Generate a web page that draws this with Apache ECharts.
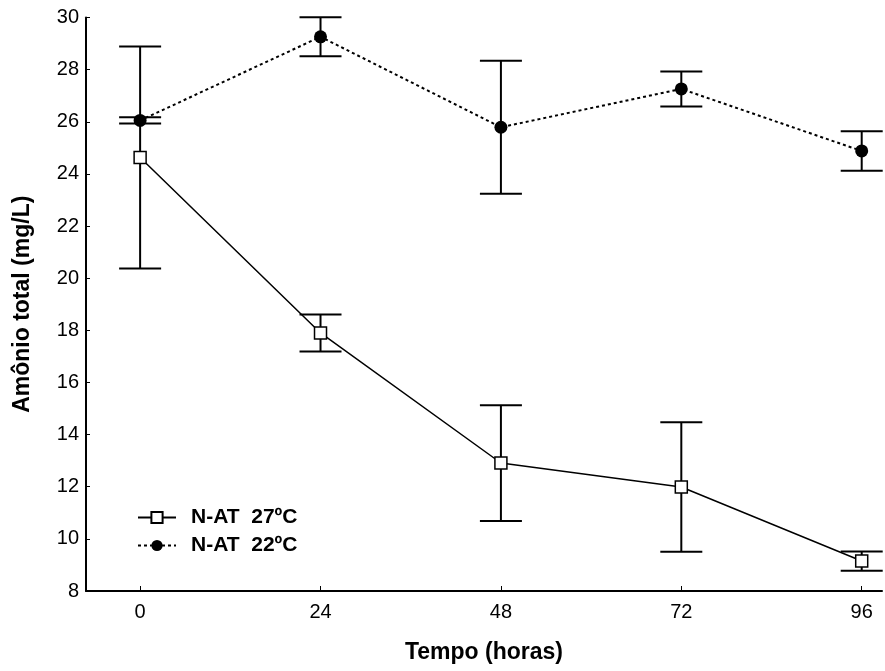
<!DOCTYPE html>
<html>
<head>
<meta charset="utf-8">
<script src="https://cdn.jsdelivr.net/npm/echarts@6/dist/echarts.min.js"></script>
<style>
  html, body { margin: 0; padding: 0; background: #fff; }
  #chart { width: 885px; height: 671px; }
</style>
</head>
<body>
<div id="chart"></div>
<script>
// tempo (horas)
var hours = [0, 24, 48, 72, 96];
// N-AT 27ºC
var at27 = [24.63, 17.90, 12.91, 11.99, 9.15];
var err27 = [4.26, 0.71, 2.22, 2.48, 0.37];
// N-AT 22ºC
var at22 = [26.05, 29.26, 25.79, 27.26, 24.88];
var err22 = [0.12, 0.75, 2.55, 0.67, 0.76];

var font = 'Liberation Sans, Arial, Helvetica, sans-serif';

function pairs(xs, ys) {
  return xs.map(function (x, i) { return [x, ys[i]]; });
}
function errData(xs, ys, es) {
  return xs.map(function (x, i) { return [x, ys[i] - es[i], ys[i] + es[i]]; });
}

// desenha barra de erro com "chapéu"
function renderErr(params, api) {
  var x = api.value(0);
  var lo = api.coord([x, api.value(1)]);
  var hi = api.coord([x, api.value(2)]);
  var half = 21;
  var style = { stroke: '#000', lineWidth: 2 };
  return {
    type: 'group',
    children: [
      { type: 'line', shape: { x1: lo[0], y1: lo[1], x2: hi[0], y2: hi[1] }, style: style },
      { type: 'line', shape: { x1: lo[0] - half, y1: lo[1], x2: lo[0] + half, y2: lo[1] }, style: style },
      { type: 'line', shape: { x1: hi[0] - half, y1: hi[1], x2: hi[0] + half, y2: hi[1] }, style: style }
    ]
  };
}

var chart = echarts.init(document.getElementById('chart'));
var option = {
  backgroundColor: '#fff',
  animation: false,
  grid: { left: 86, right: 3, top: 17.5, bottom: 80 },
  legend: {
    data: ['N-AT  27ºC', 'N-AT  22ºC'],
    orient: 'vertical',
    left: 137,
    top: 507,
    padding: 0,
    itemWidth: 38,
    itemHeight: 14,
    itemGap: 7,
    textStyle: { fontFamily: font, fontWeight: 'bold', fontSize: 21, color: '#000', padding: [0, 0, 0, 10] }
  },
  xAxis: {
    type: 'value',
    min: -7.2,
    max: 98.7,
    name: 'Tempo (horas)',
    nameLocation: 'middle',
    nameGap: 50,
    nameTextStyle: { fontFamily: font, fontWeight: 'bold', fontSize: 23, color: '#000' },
    axisLine: { onZero: false, lineStyle: { color: '#000', width: 2 } },
    axisTick: { inside: true, length: 5, customValues: hours, lineStyle: { color: '#000', width: 1 } },
    axisLabel: { customValues: hours, margin: 11, fontFamily: font, fontSize: 20, color: '#000' },
    splitLine: { show: false }
  },
  yAxis: {
    type: 'value',
    min: 8,
    max: 30,
    interval: 2,
    name: 'Amônio total (mg/L)',
    nameLocation: 'middle',
    nameGap: 52,
    nameTextStyle: { fontFamily: font, fontWeight: 'bold', fontSize: 23, color: '#000' },
    axisLine: { show: true, onZero: false, lineStyle: { color: '#000', width: 2 } },
    axisTick: { show: true, inside: true, length: 4, lineStyle: { color: '#000', width: 1 } },
    axisLabel: { margin: 7, fontFamily: font, fontSize: 20, color: '#000' },
    splitLine: { show: false }
  },
  series: [
    {
      name: 'err27',
      type: 'custom',
      renderItem: renderErr,
      data: errData(hours, at27, err27),
      z: 1,
      silent: true
    },
    {
      name: 'err22',
      type: 'custom',
      renderItem: renderErr,
      data: errData(hours, at22, err22),
      z: 1,
      silent: true
    },
    {
      name: 'N-AT  27ºC',
      type: 'line',
      data: pairs(hours, at27),
      symbol: 'rect',
      symbolSize: 12,
      showAllSymbol: true,
      lineStyle: { color: '#000', width: 1.5, type: 'solid' },
      itemStyle: { color: '#fff', borderColor: '#000', borderWidth: 1.5 },
      z: 3
    },
    {
      name: 'N-AT  22ºC',
      type: 'line',
      data: pairs(hours, at22),
      symbol: 'circle',
      symbolSize: 13,
      showAllSymbol: true,
      lineStyle: { color: '#000', width: 2, type: [3, 3] },
      itemStyle: { color: '#000', borderColor: '#000', borderWidth: 0 },
      z: 3
    }
  ]
};
chart.setOption(option);
</script>
</body>
</html>
